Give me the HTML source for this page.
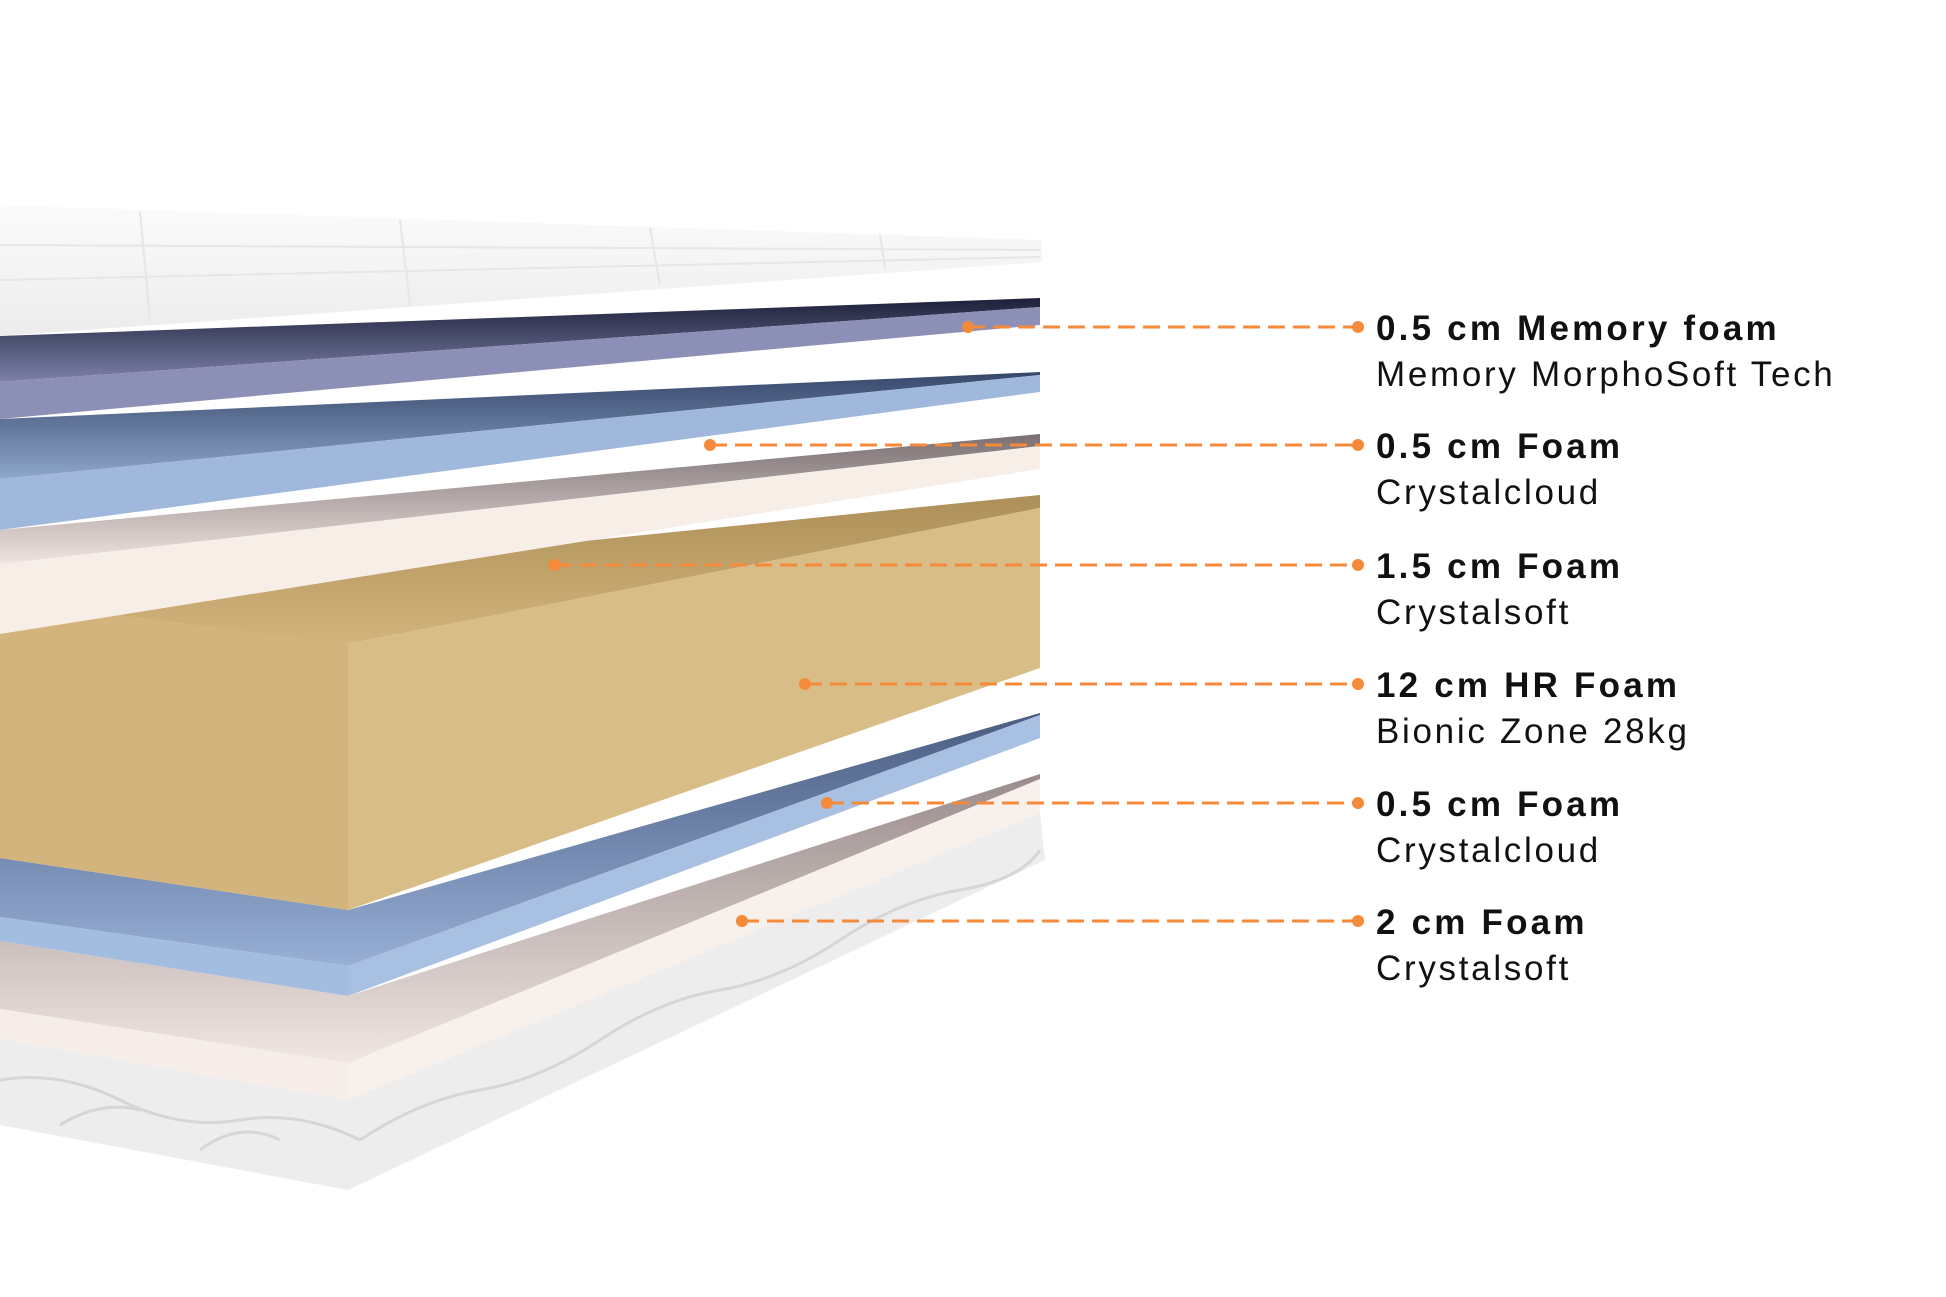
<!DOCTYPE html>
<html><head><meta charset="utf-8"><style>
html,body{margin:0;padding:0;background:#fff;}
svg{display:block;}
</style></head><body>
<svg width="1946" height="1297" viewBox="0 0 1946 1297" xmlns="http://www.w3.org/2000/svg">
<defs>
<linearGradient id="gP" x1="0" y1="0" x2="0" y2="1"><stop offset="0" stop-color="#1c2038"/><stop offset="1" stop-color="#7d81aa"/></linearGradient>
<linearGradient id="gB" x1="0" y1="0" x2="0" y2="1"><stop offset="0" stop-color="#36476a"/><stop offset="1" stop-color="#8ea7cc"/></linearGradient>
<linearGradient id="gC" x1="0" y1="0" x2="0" y2="1"><stop offset="0" stop-color="#7a6f72"/><stop offset="1" stop-color="#efe4df"/></linearGradient>
<linearGradient id="gT" x1="0" y1="0" x2="0" y2="1"><stop offset="0" stop-color="#ad8f58"/><stop offset="1" stop-color="#d2b47c"/></linearGradient>
<linearGradient id="gB2" x1="0" y1="0" x2="0" y2="1"><stop offset="0" stop-color="#4a5c82"/><stop offset="1" stop-color="#98b0d6"/></linearGradient>
<linearGradient id="gC2" x1="0" y1="0" x2="0" y2="1"><stop offset="0" stop-color="#9a8c8c"/><stop offset="1" stop-color="#f0e6e2"/></linearGradient>
<linearGradient id="gQ" x1="0" y1="0" x2="0" y2="1"><stop offset="0" stop-color="#fbfbfb"/><stop offset="1" stop-color="#ececec"/></linearGradient>
</defs>

<!-- bottom quilt -->
<polygon points="0,1039 348,1100 1040,813 1045,860 348,1190 0,1125" fill="#ededed"/>
<g fill="none" stroke="#d6d6d6" stroke-width="3">
<path d="M0,1080 Q60,1070 120,1100 T240,1120 T360,1140"/>
<path d="M360,1140 Q420,1100 480,1090 T600,1040 T720,990 T840,940 T960,890 T1040,850"/>
<path d="M60,1125 Q100,1100 140,1110 M200,1150 Q240,1120 280,1140"/>
</g>
<!-- cream 2 -->
<polygon points="0,941 348,996 1040,774 1040,779 348,1063 0,1009" fill="url(#gC2)"/>
<polygon points="0,1009 348,1063 348,1100 0,1039" fill="#f6ede8"/>
<polygon points="348,1063 1040,779 1040,813 348,1100" fill="#f8f0ea"/>
<!-- blue 2 -->
<polygon points="0,858 348,910 1040,713 1040,715 348,966 0,917" fill="url(#gB2)"/>
<polygon points="0,917 348,966 348,996 0,941" fill="#a3bde0"/>
<polygon points="348,966 1040,715 1040,738 348,996" fill="#a8c0e2"/>
<!-- tan -->
<polygon points="0,600 1040,495 1040,508 348,644 0,610" fill="url(#gT)"/>
<polygon points="0,600 348,644 348,910 0,858" fill="#d3b47c"/>
<polygon points="348,644 1040,508 1040,668 348,910" fill="#d9bd87"/>
<!-- cream 1 -->
<polygon points="0,530 1040,434 1040,446 0,564" fill="url(#gC)"/>
<polygon points="0,564 1040,446 1040,469 0,634" fill="#f7eee8"/>
<!-- blue 1 -->
<polygon points="0,419 1040,372 1040,375 0,479" fill="url(#gB)"/>
<polygon points="0,479 1040,375 1040,392 0,530" fill="#9fb8dc"/>
<!-- purple -->
<polygon points="0,336 1040,298 1040,307 0,382" fill="url(#gP)"/>
<polygon points="0,382 1040,307 1040,325 0,419" fill="#8d90b6"/>
<!-- top quilt -->
<polygon points="0,205 1042,240 1042,262 0,336" fill="url(#gQ)"/>
<g fill="none" stroke="#e6e6e6" stroke-width="2">
<path d="M0,245 L1040,250"/><path d="M0,280 L1040,257"/>
<path d="M140,212 L150,320"/><path d="M400,220 L410,305"/><path d="M650,228 L660,285"/><path d="M880,235 L885,268"/>
</g>

<!-- connectors -->
<g stroke="#f58a3a" stroke-width="3" stroke-dasharray="17 8" fill="none">
<line x1="968" y1="327" x2="1357" y2="327"/>
<line x1="710" y1="445" x2="1357" y2="445"/>
<line x1="555" y1="565" x2="1357" y2="565"/>
<line x1="805" y1="684" x2="1357" y2="684"/>
<line x1="827" y1="803" x2="1357" y2="803"/>
<line x1="742" y1="921" x2="1357" y2="921"/>
</g>
<g fill="#f58a3a">
<circle cx="968" cy="327" r="6"/><circle cx="1358" cy="327" r="6"/>
<circle cx="710" cy="445" r="6"/><circle cx="1358" cy="445" r="6"/>
<circle cx="555" cy="565" r="6"/><circle cx="1358" cy="565" r="6"/>
<circle cx="805" cy="684" r="6"/><circle cx="1358" cy="684" r="6"/>
<circle cx="827" cy="803" r="6"/><circle cx="1358" cy="803" r="6"/>
<circle cx="742" cy="921" r="6"/><circle cx="1358" cy="921" r="6"/>
</g>

<g font-family="Liberation Sans, Arial, sans-serif" fill="#111">
<g font-weight="bold" font-size="35" letter-spacing="3.2">
<text x="1376" y="340">0.5 cm Memory foam</text>
<text x="1376" y="458">0.5 cm Foam</text>
<text x="1376" y="578">1.5 cm Foam</text>
<text x="1376" y="697">12 cm HR Foam</text>
<text x="1376" y="816">0.5 cm Foam</text>
<text x="1376" y="934">2 cm Foam</text>
</g>
<g font-size="35" letter-spacing="2.7">
<text x="1376" y="386">Memory MorphoSoft Tech</text>
<text x="1376" y="504">Crystalcloud</text>
<text x="1376" y="624">Crystalsoft</text>
<text x="1376" y="743">Bionic Zone 28kg</text>
<text x="1376" y="862">Crystalcloud</text>
<text x="1376" y="980">Crystalsoft</text>
</g>
</g>
</svg>
</body></html>
